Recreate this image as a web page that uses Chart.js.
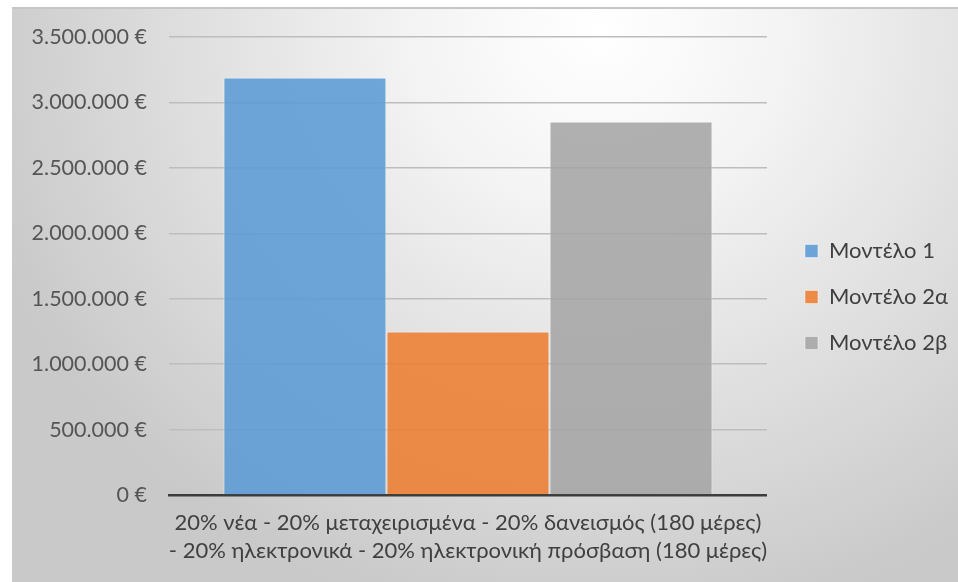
<!DOCTYPE html>
<html><head><meta charset="utf-8">
<script src="https://cdn.jsdelivr.net/npm/chart.js@4"></script>
<style>
html,body{margin:0;padding:0;background:#fff;width:958px;height:582px;overflow:hidden}
#bg{position:absolute;left:12px;top:7px;width:946px;height:575px;box-sizing:border-box;border-top:2px solid #c6c6c6;
background:radial-gradient(ellipse 68% 105% at 62% 4%, #ffffff 0%, #f4f4f4 28%, #e1e1e1 60%, #c9c9c9 100%);}
#wrap{position:absolute;left:0;top:0;width:958px;height:582px}
</style></head><body>
<div id="bg"></div>
<div id="wrap"><canvas id="c" width="958" height="582"></canvas></div>
<script>
const categories = [["20% νέα - 20% μεταχειρισμένα - 20% δανεισμός (180 μέρες)", "- 20% ηλεκτρονικά - 20% ηλεκτρονική πρόσβαση (180 μέρες)"]];
const seriesNames = ["Μοντέλο 1", "Μοντέλο 2α", "Μοντέλο 2β"];
const model1 = [3190000];
const model2a = [1250000];
const model2b = [2855000];
const yTickValues = [0, 500000, 1000000, 1500000, 2000000, 2500000, 3000000, 3500000];

const FONT = "Lato, 'Noto Sans', sans-serif";
function fmt(v){ return String(v).replace(/\B(?=(\d{3})+(?!\d))/g, '.') + ' €'; }

const colors = ['rgba(91,155,213,0.88)', 'rgba(237,125,49,0.88)', 'rgba(165,165,165,0.88)'];
const values = [model1, model2a, model2b];

new Chart(document.getElementById('c'), {
  type: 'bar',
  data: {
    labels: categories,
    datasets: seriesNames.map((n, i) => ({
      label: n,
      data: values[i],
      backgroundColor: colors[i],
      borderColor: 'rgba(255,255,255,0.45)',
      borderWidth: 1,
      borderSkipped: 'bottom',
      categoryPercentage: 0.818,
      barPercentage: 1.0
    }))
  },
  options: {
    responsive: false,
    animation: false,
    layout: { padding: { left: 12, top: 23, right: 0, bottom: 11 } },
    plugins: {
      tooltip: { enabled: false },
      legend: {
        position: 'right',
        align: 'center',
        maxWidth: 400,
        labels: { boxWidth: 13, boxHeight: 13, padding: 24, color: '#404040', font: { family: FONT, size: 22 } }
      }
    },
    scales: {
      x: {
        grid: { display: false },
        border: { display: true, color: '#3c3c3c', width: 2.5 },
        ticks: { color: '#404040', font: { family: FONT, size: 22, lineHeight: 1.27 }, padding: 6, maxRotation: 0, autoSkip: false }
      },
      x2: {
        type: 'linear', position: 'top', min: 0, max: 1,
        afterFit: s => { s.height = 14; },
        grid: { display: false, drawOnChartArea: false },
        border: { display: false },
        ticks: { display: false }
      },
      y: {
        min: 0, max: 3500000,
        afterBuildTicks: s => { s.ticks = yTickValues.map(v => ({ value: v })); },
        afterFit: s => { s.width = 157; },
        grid: { color: '#bdbdbd', lineWidth: 1.5, drawTicks: false },
        border: { display: false },
        ticks: { color: '#555555', padding: 22, font: { family: FONT, size: 21.5 }, callback: v => fmt(v) }
      },
      y2: {
        type: 'linear', position: 'right', min: 0, max: 1,
        afterFit: s => { s.width = 14; },
        grid: { display: false, drawOnChartArea: false },
        border: { display: false },
        ticks: { display: false }
      }
    }
  }
});
</script>
</body></html>
